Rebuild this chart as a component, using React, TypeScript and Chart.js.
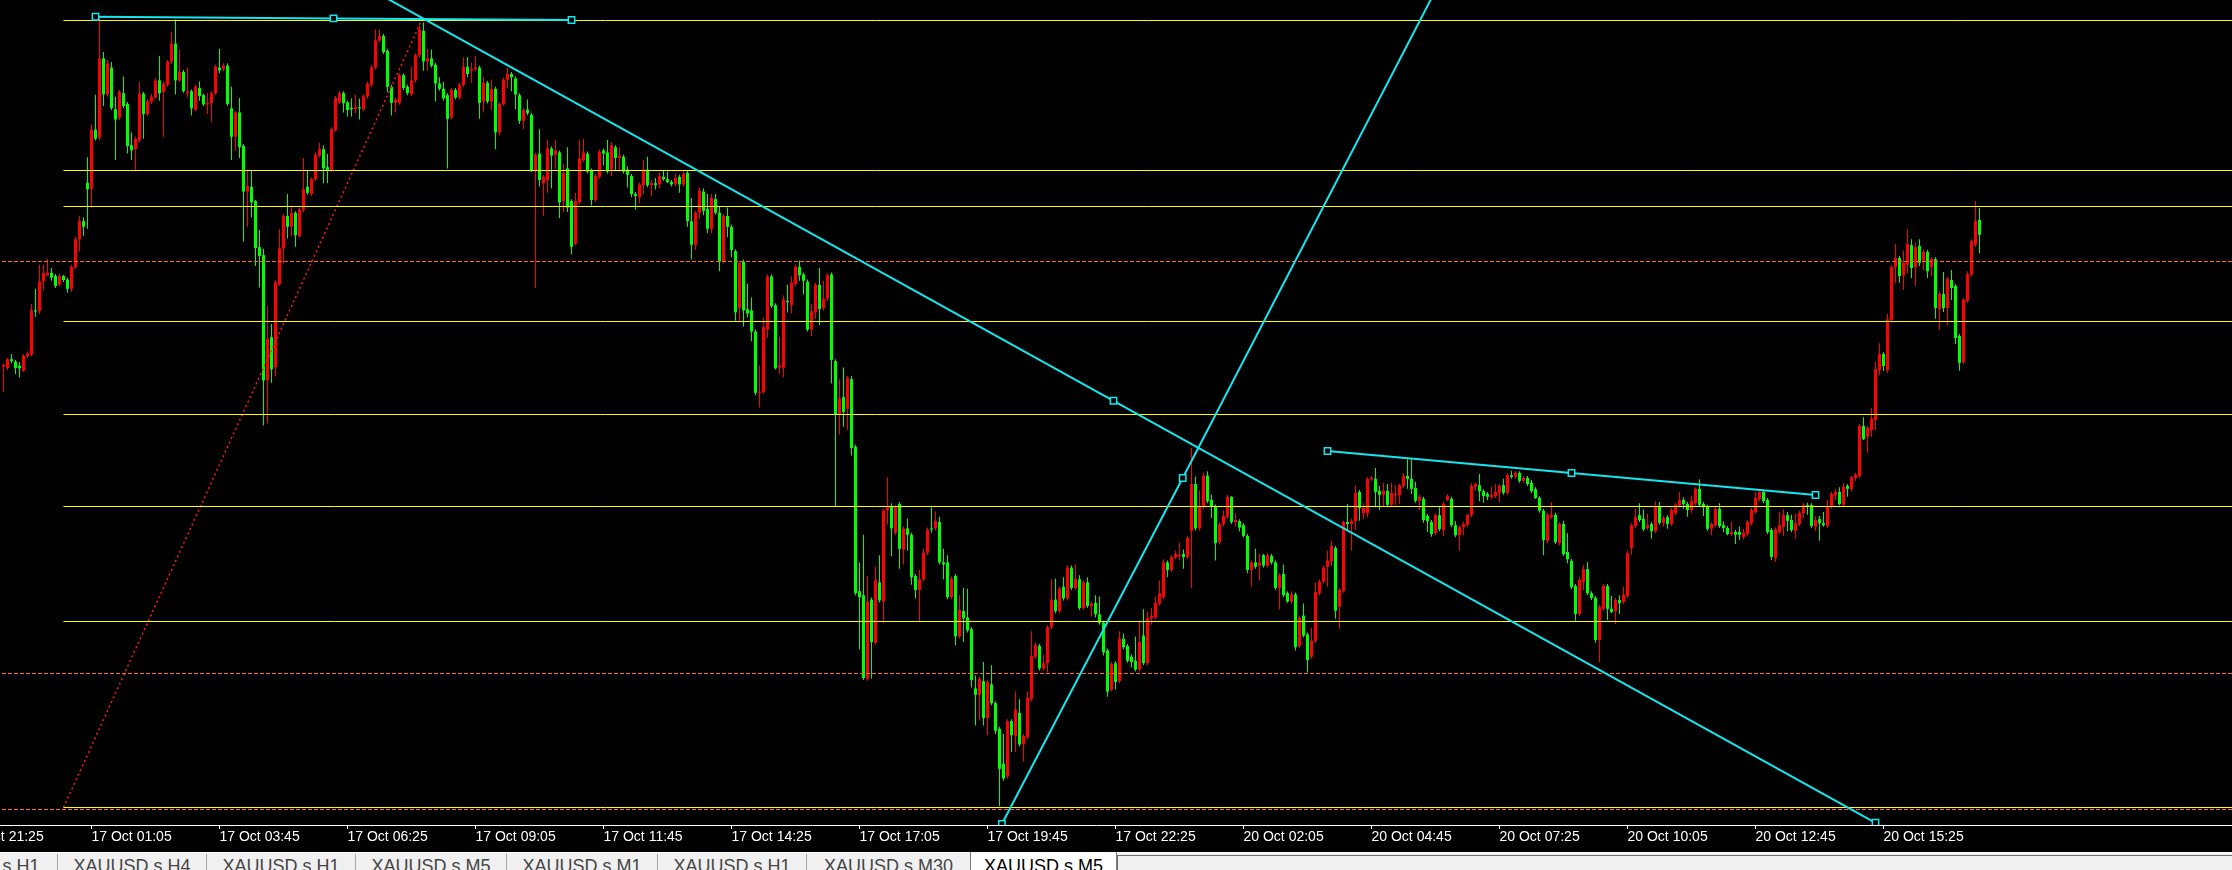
import React, { useEffect, useRef } from 'react';
import { Chart, registerables } from 'chart.js';

Chart.register(...registerables);

// ---- XAUUSD.s M5 candles (bar index 0 = first visible bar) ----
const opens = [
4293.4,4293.0,4295.2,4294.6,4293.6,4292.3,4296,4296.3,4307.4,4307.2,
4314.7,4316.2,4316.8,4316,4313.9,4316,4315.1,4312.8,4318.2,4325.2,
4329.7,4339.3,4337.7,4352.6,4350.6,4370.4,4361.4,4368.1,4357.7,4355.6,
4361.7,4359,4348.7,4347.7,4350,4361.6,4356.5,4359.6,4360.6,4364.9,
4362,4363.8,4369.6,4374.1,4364.9,4367,4361.7,4362.2,4357.6,4363,
4361.2,4358.9,4359.2,4361.7,4368.1,4367.8,4368.6,4357.9,4350.8,4356.9,
4348.5,4337.1,4338.3,4334.7,4323.2,4321.2,4289.9,4300.7,4293.2,4314,
4322.9,4331,4328.3,4331.8,4326,4332.6,4338.3,4336.5,4340.2,4346.1,
4347.7,4343.2,4342.5,4352.4,4359.4,4361.7,4359.4,4358,4357.7,4358.2,
4357.7,4360.9,4363.8,4368.1,4374.9,4376,4372.3,4363.3,4359.3,4359.3,
4366.2,4363.3,4361.4,4364.9,4371.2,4377.3,4369.6,4370.4,4368.8,4364.1,
4362.8,4361.2,4355.6,4362.5,4360.6,4363.8,4368.3,4367.3,4367.7,4368.1,
4359.6,4364.3,4359.6,4362.8,4351.9,4359,4365.1,4366.5,4365.4,4361.2,
4354.8,4357.6,4356.3,4342.4,4346.6,4339.2,4340,4347.9,4346.3,4346.9,
4334.7,4342.9,4334.7,4324.1,4334.4,4345,4346.6,4342.4,4335,4340.8,
4347.4,4346.9,4342.6,4348.2,4345.5,4345.8,4342.6,4341,4336.5,4335.7,
4338.7,4342.6,4338.7,4339.2,4338.9,4340.8,4340.2,4339.5,4338.9,4340.8,
4338.9,4341.8,4329.7,4323.8,4331.8,4337.1,4332.8,4327.8,4335.2,4331.8,
4319.6,4331,4328.3,4322.2,4307.9,4319.6,4307.7,4307.4,4302.1,4286.8,
4287,4302.6,4315.9,4308.7,4293.1,4293.1,4309.8,4308.7,4314,4318.3,
4316.4,4314.6,4302.6,4306.9,4313.8,4307.9,4310.3,4316.4,4294.7,4281.5,
4285.7,4282.8,4290.2,4273.3,4237.2,4236.2,4215.3,4235.1,4224.3,4239.4,
4234.6,4257.4,4258.4,4251.8,4259,4247.6,4252.9,4251.3,4241,4237.5,
4240.2,4246.8,4252.9,4252.9,4254.5,4244.4,4244.4,4235.7,4241,4225.9,
4232.2,4230.6,4227.7,4212.9,4211.3,4214.7,4205.5,4213.9,4209.2,4202.8,
4194.1,4190.9,4204.7,4201,4206.8,4198.9,4200.7,4210.2,4220.8,4223.5,
4217.9,4219.2,4228.2,4235.1,4232.2,4238.3,4235.4,4243.1,4238,4240.2,
4233,4239.4,4233.5,4234.3,4231.4,4229.3,4222.4,4212.6,4219.2,4214.7,
4225.3,4223.5,4220.8,4219.8,4217.6,4226.1,4219.2,4230.4,4230.6,4234.1,
4235.7,4244.4,4242.5,4245.7,4246,4246.5,4245.7,4252.3,4264,4252.9,
4258.2,4266.1,4260,4258.4,4249.4,4253.9,4255.8,4260.8,4254.5,4254.7,
4253.7,4251,4242.5,4244.4,4243.6,4246.2,4243.6,4246,4244.4,4238,
4241.5,4236.7,4234.6,4236.4,4223.5,4231.1,4226.4,4220.8,4224.8,4236.7,
4239.6,4243.3,4244.7,4248,4233.3,4237.3,4254.5,4254,4254.7,4262,
4256.7,4256.7,4265.2,4265.3,4262.3,4261.3,4262.3,4258.8,4261.2,4261.2,
4263.5,4266,4265.3,4263,4259.8,4260.3,4256,4254.5,4251.7,4256.2,
4252.5,4260,4260.3,4253.7,4251.2,4253.2,4253.8,4256.2,4263.3,4263.7,
4262.2,4261.5,4260.7,4261,4261.8,4263.7,4261.8,4266.2,4265.8,4266.8,
4264.8,4265.5,4264.3,4262.7,4260.5,4257.3,4249.8,4255.8,4256.3,4249.2,
4254,4247,4244.8,4238.5,4231.5,4239.5,4242.7,4236.7,4235.5,4225,
4232.8,4238.5,4232.8,4232.2,4235,4234.5,4236,4248,4253.5,4256.2,
4255.3,4253,4254,4252.2,4258.3,4254.3,4255.7,4254,4256.7,4258.7,
4260,4259,4257.5,4259.2,4262.8,4259,4258.3,4252.8,4253.7,4257.8,
4253.7,4253,4251.5,4252,4252,4250.7,4251.5,4254.2,4257,4260.2,
4262,4260,4252.5,4245.5,4252,4253.3,4256.2,4255,4252.3,4254,
4256.7,4258.7,4258.7,4253.3,4255.2,4254.2,4253.5,4258.3,4261.2,4262,
4258.8,4263.5,4262.7,4265.5,4266,4278.5,4275.8,4277.5,4280,4292.5,
4296.5,4292.5,4305,4318.2,4320.5,4316.2,4318.8,4323.7,4318.2,4323.5,
4319.8,4322,4318.2,4320.2,4307.7,4311.5,4308,4315,4313.5,4301,
4294.5,4309.8,4316.3,4323.8,4330,
];

const highs = [
4294,4295.5,4296.5,4295,4294.5,4296.5,4297.2,4309,4312.8,4318.8,
4318.8,4320.4,4318,4316.5,4316.5,4316.3,4315.5,4318.8,4325.8,4331,
4330.7,4345.7,4353.9,4361.3,4381,4372,4370,4369.5,4360.8,4362.5,
4365.9,4359.5,4351.9,4350.8,4364.5,4362,4360.2,4361.5,4365.5,4371,
4364.6,4370,4377.1,4380.1,4372.6,4367.5,4368.1,4362.6,4363.8,4364.6,
4361.6,4361.7,4362.2,4368.8,4372.8,4369.2,4369.2,4363.3,4357.2,4360.5,
4349,4342.6,4342.4,4335,4327.5,4322.8,4308.5,4304,4315,4327.7,
4331.5,4336.5,4333.6,4332.2,4333,4345.5,4342.4,4340.7,4346.8,4349.3,
4348.7,4346.5,4353.2,4361,4362.2,4362.2,4359.8,4360.4,4361.4,4360.4,
4361.4,4364.6,4368.7,4377.6,4377.6,4376.5,4372.8,4363.8,4360.6,4366.7,
4366.7,4363.8,4368.3,4371.7,4378.6,4379.4,4372.8,4372.6,4369.3,4365.7,
4364.5,4361.7,4363,4363,4364.3,4370.7,4370.7,4369.4,4371,4368.6,
4365.8,4364.8,4365.1,4363.3,4359.5,4365.6,4368.1,4367,4365.9,4361.7,
4358,4360.1,4356.8,4346.8,4352.7,4341.3,4350,4348.4,4350,4347.4,
4344,4348.2,4335.2,4336.8,4350,4350.3,4347.1,4342.9,4341.5,4347.6,
4347.9,4350,4349.5,4348.7,4348.2,4346.3,4343.4,4341.5,4337,4339.4,
4345,4345.8,4340,4340.5,4341.8,4342.4,4342.1,4340,4341.6,4341.3,
4342.1,4342.3,4335.5,4332.3,4338.1,4337.9,4336.5,4336.5,4336.5,4333.4,
4331.5,4333.1,4328.8,4322.7,4319.8,4320.1,4314,4310.6,4302.6,4293.6,
4305.6,4316.4,4316.4,4309.2,4300.8,4311.1,4313.8,4315.9,4318.8,4319.9,
4316.9,4315.1,4309,4314.3,4318,4314.8,4316.7,4316.9,4295.2,4290.2,
4293.1,4291,4291,4273.8,4244.4,4251.3,4241,4235.6,4243.3,4246.2,
4257.9,4265.6,4259.2,4258.7,4259.5,4253.4,4255.3,4251.8,4241.5,4242.5,
4247.8,4253.1,4258.2,4257.1,4255.8,4247.8,4246.2,4240.9,4241.5,4236.2,
4238,4237.8,4228.2,4216.1,4215.8,4219.5,4215,4218.7,4209.7,4203.3,
4201.5,4205.2,4205.2,4212.1,4210.2,4201.5,4212.1,4227.2,4224.3,4224,
4221.4,4228.7,4240.2,4240.4,4238.3,4240.7,4243.6,4243.6,4243.9,4241.2,
4239.9,4240.7,4234.6,4236.2,4235.9,4229.8,4222.9,4219.5,4219.7,4227.2,
4226.6,4224,4221.4,4225.9,4229.8,4232.7,4232.2,4233,4235.9,4239.9,
4245.2,4244.9,4246.2,4247.3,4249.4,4247.6,4251,4273,4265.8,4262.4,
4266.9,4267.2,4261.3,4258.9,4254.4,4257.4,4261.3,4261,4256.6,4255.2,
4254.2,4251.5,4244.9,4247.8,4246.5,4246.5,4246.7,4246.5,4244.9,4241.7,
4243.9,4237.2,4237.2,4236.9,4231.1,4234.1,4226.9,4228,4239.4,4240.1,
4243.6,4247.3,4249.8,4248.5,4238,4254.8,4259,4255.3,4263.7,4262.5,
4259.2,4265.7,4266,4268,4263.5,4264.3,4264,4264.3,4263.7,4264,
4266.7,4270.2,4270.2,4264.5,4261.3,4260.8,4256.5,4255,4256.7,4258.2,
4259.5,4261.5,4260.8,4254.7,4253.7,4254.5,4256.5,4264.2,4264.3,4266.5,
4262.7,4262,4263.3,4264,4264,4265.3,4266.7,4267.3,4267.2,4267.2,
4266,4266,4265,4263.2,4261,4257.8,4256.8,4259.5,4256.8,4254.5,
4254.8,4251.7,4245.3,4239,4240.8,4243.7,4244.5,4237.2,4236,4233.8,
4239,4239,4236,4235.5,4236.2,4238.3,4247.3,4254.2,4257.8,4259.2,
4257.7,4256.5,4254.5,4259.7,4259.5,4256,4256.2,4258,4259.2,4262,
4260.7,4259.5,4261,4263.2,4265.2,4259.5,4258.8,4254.5,4258.2,4259.2,
4254.7,4253.5,4254.5,4252.5,4253.3,4252.8,4255,4258,4262,4262.2,
4262.5,4260.5,4253,4253.2,4257,4257.7,4257,4256.3,4256.5,4257.3,
4259.2,4259.3,4259.2,4256,4256,4257,4260,4262,4262.7,4263.2,
4264.2,4264,4266,4266.8,4279,4280.7,4278.5,4283,4294.5,4299.2,
4297,4306.5,4318.7,4324,4321,4322.3,4327.7,4325.2,4324.3,4325.2,
4322.7,4322.5,4320.7,4320.7,4312.2,4317,4315.8,4317.5,4314,4301.5,
4310.5,4317.2,4325.2,4334.7,4333,
];

const lows = [
4287,4292.5,4294.2,4291.5,4290.7,4292,4295.5,4296,4305.8,4306.5,
4312.4,4316,4314.8,4313,4313.5,4314.5,4311.8,4312,4317.8,4322.1,
4326,4327.8,4333,4349.9,4350,4358.5,4360.8,4357.5,4345,4355,
4358,4346.6,4345,4342.4,4349.3,4350.3,4356,4359,4360.2,4359.8,
4350.8,4363.3,4369,4361.4,4364.5,4361.8,4360.6,4356.1,4357.2,4359.8,
4358.5,4356.5,4354.5,4361.2,4366.7,4367.2,4358.5,4345,4347.4,4345.5,
4324.6,4328.3,4330.7,4318.5,4313.1,4278.6,4279.1,4289.3,4290.9,4313.5,
4319.1,4325.4,4326,4323.3,4325.6,4332,4336.3,4336,4339.8,4345.7,
4339.2,4339.2,4342,4352,4359,4356.9,4355.9,4355.9,4356.7,4355.1,
4357.2,4360.4,4363.3,4367.6,4374.4,4371.5,4362,4356.1,4356.9,4358.8,
4362.5,4361.2,4361,4364.4,4370.7,4367.3,4367.3,4368.1,4359.6,4362.3,
4359.9,4342.9,4355.1,4360.1,4360.1,4363.3,4365.7,4364.3,4367.2,4355.3,
4356.9,4359.1,4357.5,4347.7,4351.1,4358.5,4363,4362.2,4357.7,4354,
4352.7,4356.2,4342,4313,4338.4,4331,4336.8,4337.9,4342.6,4330.5,
4332,4332,4321.4,4323.6,4333.9,4344.5,4341.6,4333.6,4334.5,4340.3,
4343.7,4341.6,4341,4342.4,4342.1,4341.6,4338.1,4335.7,4332.6,4334.2,
4336.5,4338.2,4336,4337.6,4337.9,4339.8,4339.2,4338.4,4338.4,4336.8,
4338.4,4328.3,4320.1,4322.5,4330.2,4331.2,4326.7,4326.7,4331.3,4317.2,
4319.1,4325.7,4320.7,4304.8,4304.8,4303.4,4305.6,4299.7,4286.2,4283.1,
4286.5,4300.5,4308,4292.6,4291.5,4290.7,4306.9,4306.6,4313.5,4314.8,
4311.4,4302.1,4301,4305.3,4303.7,4307.4,4309.8,4289.1,4258.4,4276.4,
4278.3,4277.5,4271.1,4236.2,4222.7,4215,4214.8,4215.3,4223.8,4234.4,
4229.3,4253.9,4246,4251.3,4242.8,4243.9,4247.3,4238.8,4235.4,4229.8,
4239.7,4246.3,4251.8,4252.4,4243.9,4240.2,4235.2,4235.2,4223.7,4225.4,
4224.5,4226.9,4213.1,4203.6,4204.9,4203.6,4201.2,4208.7,4201.5,4183.5,
4189.8,4190.4,4197,4197,4198.4,4194.6,4200.2,4209.7,4220.3,4217.4,
4217.4,4216.9,4227.7,4231.7,4231.7,4234.9,4234.9,4237.5,4237.5,4232.5,
4232.5,4233,4230.9,4230.6,4228.8,4221.1,4210.8,4212.1,4212.6,4214.2,
4222.7,4219.3,4218.2,4217.1,4217.1,4218.7,4218.7,4228.8,4230.1,4233.6,
4235.2,4240.7,4242,4245.2,4244.9,4242.8,4245.2,4238,4252.4,4252.4,
4257.7,4259.2,4255.5,4244.9,4248.9,4253.4,4255.3,4254,4253.4,4252.1,
4250.7,4241.7,4238.3,4242.8,4239.9,4243.1,4243.1,4243.9,4237.5,4232.7,
4235.7,4234.3,4234.1,4222.4,4223,4225.6,4216.9,4220.3,4224.3,4236.2,
4239.1,4238.3,4243.5,4230.3,4227.8,4236.8,4252.5,4247.3,4252.5,4254.8,
4255.2,4255.7,4264.8,4258.2,4257.5,4258.5,4258.2,4258.3,4258.8,4259,
4263,4262.8,4261.5,4259.3,4257.5,4254.3,4252,4250.8,4251.2,4252.2,
4251,4259.7,4253.2,4250.7,4247.3,4251.2,4253.3,4255.7,4262.3,4259.7,
4259.3,4260,4260.2,4260.5,4259.5,4261.3,4261.3,4265.3,4265.3,4264.3,
4264.3,4263.5,4261.7,4260.3,4256.8,4246.2,4249.2,4255.3,4249,4248.7,
4246,4244.2,4237.7,4229.8,4231,4237.5,4236.2,4235,4224.3,4219.5,
4232.3,4230,4231.7,4229,4231.5,4234,4235.5,4246.3,4253,4254.5,
4252.2,4252.5,4250.3,4251.7,4253.8,4253.3,4252.8,4253.5,4256.2,4258.2,
4257.8,4255.8,4256.7,4258.7,4258.3,4256,4252.3,4251.2,4253.2,4253,
4252,4251.2,4251,4249,4250,4250.2,4251,4253.7,4256.5,4259.7,
4259.2,4251.5,4245,4244.5,4251.5,4251,4252.2,4252,4250.3,4253.5,
4255.5,4256.3,4253,4252.3,4249.8,4253.3,4253,4257.8,4260,4258.7,
4258.3,4260.8,4262.2,4264.8,4265.5,4275,4271.8,4275.8,4277.5,4291.2,
4292.3,4291.8,4304.5,4314.2,4314.3,4312.5,4316.7,4315.5,4313.5,4318.5,
4317.5,4315.5,4316,4305.3,4302.5,4307,4303.7,4310,4299,4292.3,
4294,4309.3,4315.8,4323.3,4321.7,
];

const closes = [
4293.8,4295.2,4294.7,4293.0,4292.9,4296.0,4296.6,4307.4,4307.1,4314.6,
4316.7,4316.8,4315.6,4313.5,4316,4315,4312.8,4318.3,4325.2,4329.7,
4328.3,4337.7,4352.6,4350.3,4370.4,4361.4,4369.1,4358,4355.1,4362,
4358.5,4348.5,4347.4,4350.3,4361.6,4356.5,4359.7,4360.8,4364.9,4361.7,
4364.1,4369.6,4374.1,4364.9,4367,4362.2,4362.1,4357.9,4363.3,4361,
4358.9,4359.3,4361.7,4368.3,4367.4,4368.6,4359,4350.8,4356.9,4348.2,
4337.1,4338.5,4334.4,4323,4321,4289.9,4300.3,4292.7,4314.4,4322.9,
4331,4328.3,4331.8,4326.2,4332.6,4337.7,4336.8,4340.2,4346.3,4347.7,
4342.9,4342.4,4352.7,4360.5,4361.7,4359.2,4357.5,4357.7,4358.2,4357.9,
4360.9,4364.1,4368.2,4374.9,4376,4372,4363.3,4359.3,4360.1,4366.2,
4363,4361.7,4364.9,4371.2,4377.6,4369.6,4370.4,4368.6,4364.1,4362.8,
4360.4,4355.3,4362.5,4360.6,4363.8,4368.3,4366.5,4367.7,4368.1,4359.3,
4364.3,4359.6,4362.8,4351.9,4359,4365.1,4366.5,4365.7,4361.4,4354.8,
4357.5,4356.7,4342.4,4346.3,4340,4340.8,4347.9,4346.1,4347.4,4334.4,
4341.8,4333.1,4323.3,4334.7,4345.3,4346.9,4342.1,4335,4341,4347.1,
4346.6,4342.1,4348.7,4345.5,4346.1,4342.1,4341.3,4336.5,4336,4338.9,
4342.6,4338.7,4339.2,4338.7,4341,4340.2,4339.5,4338.9,4340.5,4338.9,
4341.6,4329.7,4323.8,4331.8,4337.3,4332.3,4327.8,4335.5,4331.8,4319.6,
4331,4328.3,4322.5,4306.9,4319.3,4307.4,4306.6,4302.1,4286.8,4287.1,
4303.2,4315.9,4308.5,4292.9,4293.6,4310.1,4309.5,4314.3,4318.3,4316.2,
4314.8,4302.6,4307.2,4313.8,4307.7,4310.3,4316.2,4295,4281.5,4285.4,
4282,4290.5,4273,4236.7,4235.7,4215.5,4234.6,4224.5,4239.9,4234.9,
4257.4,4258.2,4252.9,4258.2,4247.8,4252.9,4251.3,4240.7,4237.5,4240.2,
4246.8,4252.6,4252.6,4254.7,4244.4,4243.9,4235.7,4240.4,4225.9,4232.5,
4230.4,4227.4,4215,4211.3,4215.3,4205.5,4214.5,4209.2,4202.3,4192.8,
4190.4,4204.7,4201.2,4207.6,4198.9,4201,4210.5,4221.1,4223.7,4217.9,
4219.2,4228.2,4235.1,4232.2,4237.8,4235.4,4243.1,4238,4240.2,4233,
4239.4,4233.5,4234.1,4231.4,4229.3,4221.9,4212.1,4219,4214.5,4225.3,
4223.2,4219.8,4219.5,4217.6,4224.5,4219.2,4230.6,4231.1,4234.3,4236.7,
4244.4,4242.5,4245.7,4246.5,4246.3,4245.7,4250.5,4264,4252.9,4258.2,
4266.1,4259.7,4258.4,4249.2,4253.9,4256,4260.8,4254.5,4255,4253.1,
4251,4242.5,4244.4,4243.3,4244.4,4243.6,4246.2,4244.4,4238,4241.2,
4236.2,4234.6,4236.4,4223.2,4230.6,4226.1,4220,4224.8,4237,4239.6,
4243.1,4244.9,4248.5,4232.3,4237.5,4254.5,4254,4254.8,4261.8,4258,
4258,4265.3,4265.5,4262,4261.3,4262.3,4258.8,4261.8,4261.3,4263.7,
4266,4265.3,4262.8,4259.8,4260.8,4255,4254.7,4251.5,4256.2,4252.7,
4259,4261,4253.7,4251.2,4253.2,4254,4256.2,4263.5,4264,4262.2,
4261,4260.8,4261.2,4262,4263.5,4261.8,4266.2,4265.8,4266.8,4264.8,
4265.5,4264,4262.2,4260.5,4257.3,4250,4256.3,4256.3,4249.5,4254,
4246.5,4245.2,4238.2,4231.5,4240,4242.7,4236.7,4235.5,4225,4233.3,
4238.5,4232.8,4232,4235,4234.2,4236.3,4246.7,4253.7,4255.7,4255,
4252.7,4253.7,4252.2,4258.3,4254.3,4255.5,4254,4257.5,4258.8,4260,
4259,4257.5,4259.7,4262.8,4258.8,4258.2,4252.8,4254,4257.8,4253.5,
4253,4251.5,4252,4251.3,4251.3,4251.8,4254.5,4257.5,4260.5,4262,
4259.7,4252,4245.8,4252.7,4253.7,4256.2,4254.8,4252.5,4254.2,4256.8,
4258.7,4258.3,4253.5,4255,4254.2,4253.7,4258.3,4261.5,4262,4259,
4263.3,4262.8,4265.7,4266.3,4278.5,4275.2,4278,4280.3,4292.7,4296.5,
4293.5,4305.2,4318.2,4320.5,4316,4319.3,4324,4318,4323.2,4319.3,
4322,4317.2,4320.3,4308,4311.5,4308,4315.3,4313,4300.5,4294.3,
4310,4316.5,4324.7,4329.7,4326.3,
];

// ---- time axis ----
const tickBars = [-10, 22, 54, 86, 118, 150, 182, 214, 246, 278, 310, 342, 374, 406, 438, 470];
const tickLabels = [
  '16 Oct 21:25', '17 Oct 01:05', '17 Oct 03:45', '17 Oct 06:25', '17 Oct 09:05', '17 Oct 11:45',
  '17 Oct 14:25', '17 Oct 17:05', '17 Oct 19:45', '17 Oct 22:25', '20 Oct 02:05', '20 Oct 04:45',
  '20 Oct 07:25', '20 Oct 10:05', '20 Oct 12:45', '20 Oct 15:25',
];

// ---- drawn objects (price levels / anchors) ----
const fiboLevels = [4379.875, 4342.375, 4333.375, 4304.625, 4281.375, 4258.375, 4229.625, 4183.125];
const fiboStartBar = 15;
const fiboDiagonal = [{ x: 15, y: 4183.125 }, { x: 104.5, y: 4379.875 }];
const dashedLevels = [4319.625, 4216.625, 4182.625];
const trendLines = [
  { points: [{ x: 23, y: 4380.8 }, { x: 82.5, y: 4380.4 }, { x: 142, y: 4380.0 }], markers: [true, true, true] },
  { points: [{ x: 87, y: 4390.3 }, { x: 277.5, y: 4284.8 }, { x: 468, y: 4179.3 }], markers: [true, true, true] },
  { points: [{ x: 249.6, y: 4179 }, { x: 294.8, y: 4265.5 }, { x: 366, y: 4402.8 }], markers: [true, true, false] },
  { points: [{ x: 331, y: 4272.25 }, { x: 392, y: 4266.75 }, { x: 453, y: 4261.25 }], markers: [true, true, true] },
];

// ---- tab strip ----
const tabLabels = ['XAUUSD.s H1', 'XAUUSD.s H4', 'XAUUSD.s H1', 'XAUUSD.s M5', 'XAUUSD.s M1', 'XAUUSD.s H1', 'XAUUSD.s M30', 'XAUUSD.s M5'];
const tabEdges = [-95, 57, 206, 355, 506, 657, 806, 970, 1117];
const activeTab = 7;

// ---- view ----
const X_MIN = -10.875;
const X_MAX = 557.125;
const Y_MIN = 4178.75;
const Y_MAX = 4385;

const UP = '#ff0000';
const DOWN = '#00ff00';
const YELLOW = '#ffff00';
const ORANGE = '#ff6a1f';
const CYAN = '#14e6f0';

export default function App() {
  const ref = useRef<HTMLCanvasElement | null>(null);

  useEffect(() => {
    const canvas = ref.current;
    if (!canvas) return;
    const n = Math.min(opens.length, highs.length, lows.length, closes.length);
    const idx = Array.from({ length: n }, (_, i) => i);
    const colors = idx.map(i => (closes[i] >= opens[i] ? UP : DOWN));

    const datasets: any[] = [];
    trendLines.forEach(tl => {
      datasets.push({
        type: 'line',
        data: tl.points,
        borderColor: CYAN,
        borderWidth: 2,
        tension: 0,
        fill: false,
        pointStyle: 'rect',
        pointRadius: tl.markers.map(m => (m ? 4.5 : 0)),
        pointBackgroundColor: '#000000',
        pointBorderColor: CYAN,
        pointBorderWidth: 1.5,
        order: 0,
      });
    });
    fiboLevels.forEach(v => {
      datasets.push({
        type: 'line',
        data: [{ x: fiboStartBar, y: v }, { x: X_MAX, y: v }],
        borderColor: YELLOW, borderWidth: 1, pointRadius: 0, tension: 0, fill: false, order: 0,
      });
    });
    dashedLevels.forEach(v => {
      datasets.push({
        type: 'line',
        data: [{ x: X_MIN, y: v }, { x: X_MAX, y: v }],
        borderColor: ORANGE, borderWidth: 1, borderDash: [4, 2], pointRadius: 0, tension: 0, fill: false, order: 0,
      });
    });
    datasets.push({
      type: 'line',
      data: fiboDiagonal,
      borderColor: '#ff1a1a', borderWidth: 1.5, borderDash: [2, 3], pointRadius: 0, tension: 0, fill: false, order: 0,
    });
    datasets.push({
      type: 'bar',
      data: idx.map(i => ({ x: i, y: [opens[i], closes[i]] })),
      backgroundColor: colors,
      barThickness: 3,
      grouped: false,
      inflateAmount: 0,
      borderWidth: 0,
      minBarLength: 1,
      order: 1,
    });
    datasets.push({
      type: 'bar',
      data: idx.map(i => ({ x: i, y: [lows[i], highs[i]] })),
      backgroundColor: colors,
      barThickness: 1,
      grouped: false,
      inflateAmount: 0,
      borderWidth: 0,
      minBarLength: 1,
      order: 2,
    });

    const chart = new Chart(canvas, {
      type: 'bar',
      data: { datasets },
      options: {
        animation: false,
        responsive: false,
        maintainAspectRatio: false,
        devicePixelRatio: 1,
        events: [],
        layout: { padding: 0, autoPadding: false },
        plugins: { legend: { display: false }, tooltip: { enabled: false }, title: { display: false } },
        scales: {
          x: {
            type: 'linear',
            position: 'bottom',
            min: X_MIN,
            max: X_MAX,
            offset: false,
            bounds: 'data',
            afterBuildTicks: (axis: any) => {
              axis.ticks = tickBars.map(v => ({ value: v }));
            },
            afterFit: (axis: any) => {
              axis.height = 27;
            },
            grid: {
              display: true,
              offset: false,
              drawOnChartArea: false,
              drawTicks: true,
              tickLength: 4,
              tickColor: '#ffffff',
              color: '#ffffff',
              lineWidth: 1,
            },
            border: { display: true, color: '#ffffff', width: 1 },
            ticks: {
              color: '#ffffff',
              font: { family: '"Liberation Sans", Arial, sans-serif', size: 14 },
              align: 'start',
              padding: 0,
              autoSkip: false,
              maxRotation: 0,
              minRotation: 0,
              callback: (value: any) => {
                const k = tickBars.indexOf(Number(value));
                return k >= 0 ? tickLabels[k] : '';
              },
            },
          },
          y: {
            type: 'linear',
            display: false,
            min: Y_MIN,
            max: Y_MAX,
          },
        },
      } as any,
    });
    return () => chart.destroy();
  }, []);

  const tabs = tabLabels.map((label, k) => {
    const left = tabEdges[k];
    const width = tabEdges[k + 1] - tabEdges[k];
    const active = k === activeTab;
    return (
      <div
        key={k}
        style={{
          position: 'absolute',
          left,
          top: active ? 852 : 854,
          width,
          height: 24,
          boxSizing: 'border-box',
          background: active ? '#ffffff' : 'transparent',
          borderLeft: k > 0 ? '1px solid ' + (active ? '#7a7a7a' : '#a9a9a9') : 'none',
          borderRight: active ? '1px solid #7a7a7a' : 'none',
          overflow: 'hidden',
        }}
      >
        <div
          style={{
            position: 'absolute',
            left: 0,
            width: '100%',
            top: active ? 5 : 3,
            textAlign: 'center',
            font: '18px "Liberation Sans", Arial, sans-serif',
            lineHeight: '18px',
            color: active ? '#000000' : '#444444',
            whiteSpace: 'nowrap',
          }}
        >
          {label}
        </div>
      </div>
    );
  });

  return (
    <div style={{ position: 'relative', width: 2232, height: 870, overflow: 'hidden', background: '#000000' }}>
      <style>{'body{margin:0;background:#000;}'}</style>
      <canvas
        ref={ref}
        width={2272}
        height={852}
        style={{ position: 'absolute', left: -40, top: 0, width: 2272, height: 852, display: 'block' }}
      />
      <div
        style={{
          position: 'absolute', left: 0, top: 852, width: 2232, height: 18,
          background: '#f0f0f0', borderTop: '1px solid #ffffff', boxSizing: 'border-box',
        }}
      />
      {tabs}
      <div
        style={{
          position: 'absolute', left: 1117, top: 855, width: 1200, height: 20,
          background: '#f0f0f0', borderLeft: '1px solid #6e6e6e', borderTop: '1px solid #6e6e6e', boxSizing: 'border-box',
        }}
      />
    </div>
  );
}
